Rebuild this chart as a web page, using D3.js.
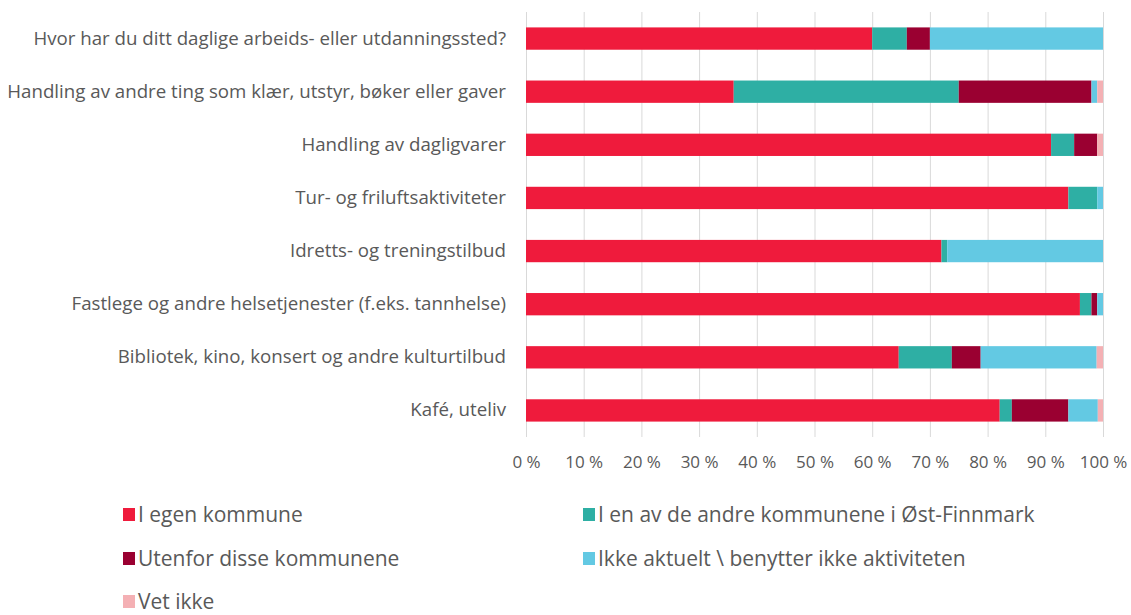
<!DOCTYPE html>
<html>
<head>
<meta charset="utf-8">
<script src="https://cdn.jsdelivr.net/npm/d3@7"></script>
<style>
  body { margin: 0; background: #fff; }
  svg text { font-family: "Open Sans", Lato, sans-serif; fill: #595959; }
</style>
</head>
<body>
<svg id="chart" width="1131" height="615"></svg>
<script>
// categories top to bottom
const categories = [
  'Hvor har du ditt daglige arbeids- eller utdanningssted?',
  'Handling av andre ting som klær, utstyr, bøker eller gaver',
  'Handling av dagligvarer',
  'Tur- og friluftsaktiviteter',
  'Idretts- og treningstilbud',
  'Fastlege og andre helsetjenester (f.eks. tannhelse)',
  'Bibliotek, kino, konsert og andre kulturtilbud',
  'Kafé, uteliv'
]

const seriesNames = [
  'I egen kommune',
  'I en av de andre kommunene i Øst-Finnmark',
  'Utenfor disse kommunene',
  'Ikke aktuelt \\ benytter ikke aktiviteten',
  'Vet ikke'
]

const egenKommune = [60, 36, 91, 94, 72, 96, 64.6, 82.1]
const andreKommuner = [6, 39, 4, 5, 1, 2, 9.2, 2.1]
const utenfor = [4, 23, 4, 0, 0, 1, 5, 9.8]
const ikkeAktuelt = [30, 1, 0, 1, 27, 1, 20.1, 5.1]
const vetIkke = [0, 1, 1, 0, 0, 0, 1.1, 0.9]

const tickValues = [0, 10, 20, 30, 40, 50, 60, 70, 80, 90, 100]

const colors = ['#EF1B3C', '#2EAFA4', '#9A0031', '#63C9E3', '#F4B0B4']

const svg = d3.select('#chart')
const padding = { left: 526, right: 28, top: 12, bottom: 178 }
const width = 1131 - padding.left - padding.right
const height = 615 - padding.top - padding.bottom

const xScale = d3.scaleLinear().domain([0, 100]).range([0, width])
const yScale = d3.scaleBand().domain(categories).range([0, height]).paddingInner(0.58).paddingOuter(0.29)

const g = svg.append('g')
  .attr('transform', 'translate(' + padding.left + ',' + padding.top + ')')

// vertical gridlines
g.append('g')
  .selectAll('line')
  .data(tickValues)
  .enter()
  .append('line')
  .attr('x1', d => xScale(d) + 0.5)
  .attr('x2', d => xScale(d) + 0.5)
  .attr('y1', 0)
  .attr('y2', height)
  .attr('stroke', '#d9d9d9')
  .attr('stroke-width', 1)

const table = categories.map((c, i) => ({
  category: c,
  s0: egenKommune[i],
  s1: andreKommuner[i],
  s2: utenfor[i],
  s3: ikkeAktuelt[i],
  s4: vetIkke[i]
}))

const stack = d3.stack().keys(['s0', 's1', 's2', 's3', 's4'])
const series = stack(table)

g.selectAll('.layer')
  .data(series)
  .enter()
  .append('g')
  .attr('class', 'layer')
  .attr('fill', (d, i) => colors[i])
  .selectAll('rect')
  .data(d => d)
  .enter()
  .append('rect')
  .attr('x', d => xScale(d[0]))
  .attr('width', d => Math.max(0, xScale(d[1]) - xScale(d[0])))
  .attr('y', d => yScale(d.data.category))
  .attr('height', yScale.bandwidth())

// category labels
const yAxis = d3.axisLeft(yScale).tickSize(0).tickPadding(20)
const yG = g.append('g').call(yAxis)
yG.select('.domain').remove()
yG.selectAll('text')
  .style('font-size', '18.7px')
  .attr('fill', '#595959')

// x axis labels
const xAxis = d3.axisBottom(xScale)
  .tickValues(tickValues)
  .tickFormat(d => d + ' %')
  .tickSize(0)
  .tickPadding(19)
const xG = g.append('g')
  .attr('transform', 'translate(0,' + height + ')')
  .call(xAxis)
xG.select('.domain').remove()
xG.selectAll('text')
  .style('font-size', '17px')
  .attr('fill', '#595959')

// legend
const legendPos = [
  [123, 515], [583, 515],
  [123, 559], [583, 559],
  [123, 602]
]
const legend = svg.append('g')
  .selectAll('g')
  .data(seriesNames)
  .enter()
  .append('g')
  .attr('transform', (d, i) => 'translate(' + legendPos[i][0] + ',' + legendPos[i][1] + ')')

legend.append('rect')
  .attr('x', 0)
  .attr('y', -7)
  .attr('width', 12)
  .attr('height', 13)
  .attr('fill', (d, i) => colors[i])

legend.append('text')
  .attr('x', 15)
  .attr('y', 0)
  .attr('dy', '0.35em')
  .style('font-size', '21px')
  .text(d => d)
</script>
</body>
</html>
